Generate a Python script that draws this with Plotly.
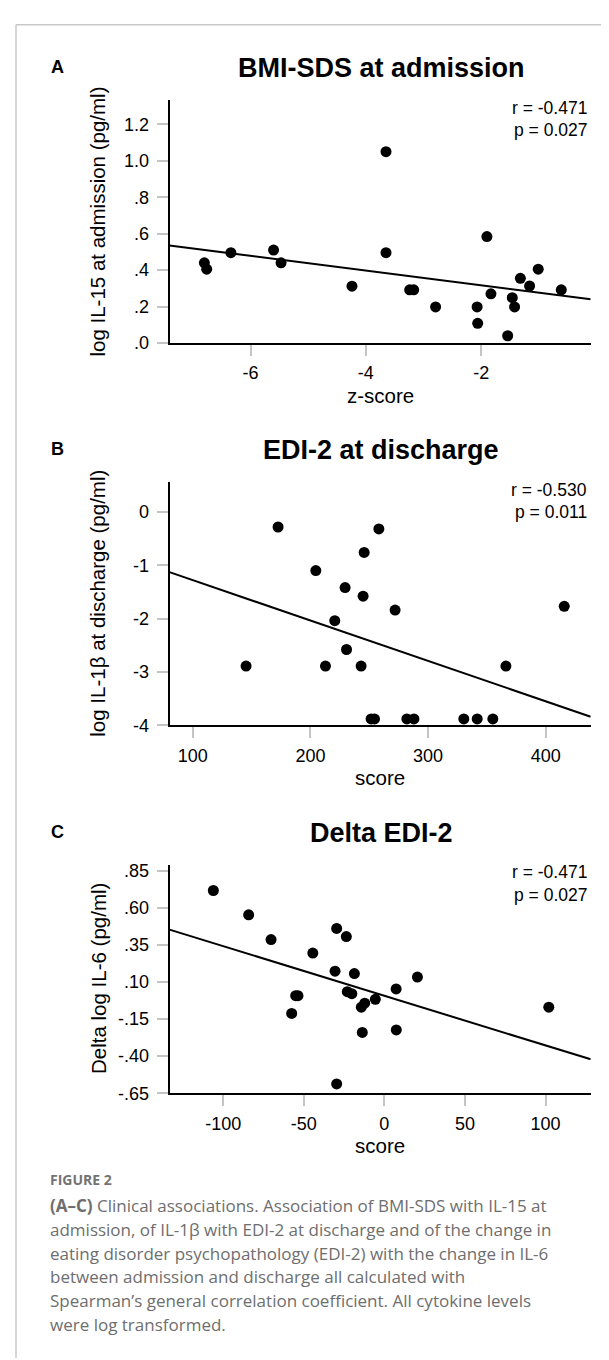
import plotly.graph_objects as go

W, H = 609, 1360

# ---------------- Data ----------------
# Panel A: BMI-SDS at admission vs log IL-15 at admission
a_x = [-6.80, -6.76, -6.34, -5.60, -5.47, -4.24, -3.65, -3.65, -3.24, -3.17, -2.79,
       -2.07, -2.06, -1.90, -1.83, -1.54, -1.46, -1.42, -1.32, -1.16, -1.01, -0.61]
a_y = [0.44, 0.405, 0.496, 0.51, 0.44, 0.312, 1.05, 0.496, 0.292, 0.292, 0.198,
       0.198, 0.108, 0.584, 0.27, 0.04, 0.249, 0.198, 0.355, 0.313, 0.405, 0.292]
a_fit_x = [-7.405, -0.10]
a_fit_y = [0.535, 0.24]
a_xticks = [-6, -4, -2]
a_xticklabels = ["-6", "-4", "-2"]
a_yticks = [0.0, 0.2, 0.4, 0.6, 0.8, 1.0, 1.2]
a_yticklabels = [".0", ".2", ".4", ".6", ".8", "1.0", "1.2"]
a_xrange = [-7.405, -0.10]
a_yrange = [0.0, 1.333]

# Panel B: EDI-2 at discharge vs log IL-1beta at discharge
b_x = [145.3, 172.5, 204.6, 212.8, 220.7, 229.5, 230.7, 243.1, 244.8, 245.7, 251.6,
       254.5, 258.2, 272.0, 282.0, 288.0, 330.4, 341.8, 355.1, 366.2, 415.8]
b_y = [-2.89, -0.284, -1.10, -2.89, -2.04, -1.42, -2.58, -2.89, -1.58, -0.76, -3.88,
       -3.88, -0.32, -1.84, -3.88, -3.88, -3.88, -3.88, -3.88, -2.89, -1.77]
b_fit_x = [80.2, 438.3]
b_fit_y = [-1.13, -3.84]
b_xticks = [100, 200, 300, 400]
b_xticklabels = ["100", "200", "300", "400"]
b_yticks = [-4, -3, -2, -1, 0]
b_yticklabels = ["-4", "-3", "-2", "-1", "0"]
b_xrange = [80.2, 438.3]
b_yrange = [-4.0, 0.557]

# Panel C: Delta EDI-2 vs Delta log IL-6
c_x = [-106.1, -84.2, -70.3, -57.5, -55.0, -53.6, -44.4, -30.6, -29.6, -29.6, -23.6,
       -23.0, -20.2, -18.6, -14.3, -13.7, -12.2, -5.6, 7.3, 7.4, 20.5, 102.0]
c_y = [0.717, 0.553, 0.386, -0.112, 0.008, 0.008, 0.295, 0.173, 0.461, -0.587, 0.406,
       0.035, 0.021, 0.157, -0.07, -0.24, -0.043, -0.017, 0.053, -0.223, 0.133, -0.07]
c_fit_x = [-133.3, 128.0]
c_fit_y = [0.453, -0.421]
c_xticks = [-100, -50, 0, 50, 100]
c_xticklabels = ["-100", "-50", "0", "50", "100"]
c_yticks = [-0.65, -0.40, -0.15, 0.10, 0.35, 0.60, 0.85]
c_yticklabels = ["-.65", "-.40", "-.15", ".10", ".35", ".60", ".85"]
c_xrange = [-133.3, 128.0]
c_yrange = [-0.65, 0.89]

panel_letters = ["A", "B", "C"]
panel_titles = ["BMI-SDS at admission", "EDI-2 at discharge", "Delta EDI-2"]
x_titles = ["z-score", "score", "score"]
y_titles = ["log IL-15 at admission (pg/ml)", "log IL-1β at discharge (pg/ml)",
            "Delta log IL-6 (pg/ml)"]
r_texts = ["r = -0.471", "r = -0.530", "r = -0.471"]
p_texts = ["p = 0.027", "p = 0.011", "p = 0.027"]

caption_head = "FIGURE 2"
caption_lines = [
    "<b>(A–C)</b> Clinical associations. Association of BMI-SDS with IL-15 at",
    "admission, of IL-1β with EDI-2 at discharge and of the change in",
    "eating disorder psychopathology (EDI-2) with the change in IL-6",
    "between admission and discharge all calculated with",
    "Spearman’s general correlation coefficient. All cytokine levels",
    "were log transformed.",
]

# ---------------- Layout geometry (pixels) ----------------
PX_L, PX_R = 161.5, 582.7
panels_py = [(89.0, 334.5), (475.0, 720.7), (861.7, 1092.5)]

def fx(px):
    return px / W

def fy(py):
    return 1 - py / H

FONT = "Arial, Liberation Sans, sans-serif"

fig = go.Figure()

data = [
    (a_x, a_y, a_fit_x, a_fit_y, a_xticks, a_xticklabels, a_yticks, a_yticklabels, a_xrange, a_yrange),
    (b_x, b_y, b_fit_x, b_fit_y, b_xticks, b_xticklabels, b_yticks, b_yticklabels, b_xrange, b_yrange),
    (c_x, c_y, c_fit_x, c_fit_y, c_xticks, c_xticklabels, c_yticks, c_yticklabels, c_xrange, c_yrange),
]

annotations = []
layout_axes = {}
for i, (xs, ys, fxs, fys, xt, xtl, yt, ytl, xr, yr) in enumerate(data):
    n = "" if i == 0 else str(i + 1)
    xa, ya = "x" + n, "y" + n
    top, bot = panels_py[i]
    fig.add_trace(go.Scatter(x=fxs, y=fys, mode="lines", xaxis=xa, yaxis=ya,
                             line=dict(color="black", width=2), showlegend=False,
                             hoverinfo="skip"))
    fig.add_trace(go.Scatter(x=xs, y=ys, mode="markers", xaxis=xa, yaxis=ya,
                             marker=dict(color="black", size=11), showlegend=False,
                             cliponaxis=False))
    common = dict(showline=True, linecolor="black", linewidth=1.6, ticks="outside",
                  ticklen=11, tickwidth=2, tickcolor="#c4c4c4", showgrid=False,
                  zeroline=False, tickfont=dict(family=FONT, size=18, color="black"))
    layout_axes["xaxis" + n] = dict(domain=[fx(PX_L), fx(PX_R)], range=xr, anchor=ya,
                                    tickmode="array", tickvals=xt, ticktext=xtl,
                                    ticklabelstandoff=2, **common)
    layout_axes["yaxis" + n] = dict(domain=[fy(bot), fy(top)], range=yr, anchor=xa,
                                    tickmode="array", tickvals=yt, ticktext=ytl,
                                    ticklabelstandoff=4, **common)
    cx = (PX_L + PX_R) / 2
    # title
    annotations.append(dict(text="<b>" + panel_titles[i] + "</b>", x=fx(cx + 1), y=fy(top - 32),
                            xref="paper", yref="paper", showarrow=False,
                            xanchor="center", yanchor="middle",
                            font=dict(family=FONT, size=27, color="black")))
    # letter
    annotations.append(dict(text="<b>" + panel_letters[i] + "</b>", x=fx(49), y=fy(top - 33),
                            xref="paper", yref="paper", showarrow=False,
                            xanchor="center", yanchor="middle",
                            font=dict(family=FONT, size=18, color="black")))
    # r / p
    annotations.append(dict(text=r_texts[i], x=fx(581), y=fy(top + 7.5),
                            xref="paper", yref="paper", showarrow=False,
                            xanchor="right", yanchor="middle",
                            font=dict(family=FONT, size=17.5, color="black")))
    annotations.append(dict(text=p_texts[i], x=fx(581), y=fy(top + 30),
                            xref="paper", yref="paper", showarrow=False,
                            xanchor="right", yanchor="middle",
                            font=dict(family=FONT, size=17.5, color="black")))
    # x title
    annotations.append(dict(text=x_titles[i], x=fx(cx), y=fy(bot + 53),
                            xref="paper", yref="paper", showarrow=False,
                            xanchor="center", yanchor="middle",
                            font=dict(family=FONT, size=20.5, color="black")))
    # y title
    annotations.append(dict(text=y_titles[i], x=fx(90), y=fy((top + bot) / 2),
                            xref="paper", yref="paper", showarrow=False,
                            textangle=-90, xanchor="center", yanchor="middle",
                            font=dict(family=FONT, size=20.5, color="black")))

CAP_FONT = "Open Sans, Noto Sans, sans-serif"
annotations.append(dict(text="<b>" + caption_head + "</b>", x=fx(40), y=fy(1180),
                        xref="paper", yref="paper", showarrow=False,
                        xanchor="left", yanchor="middle",
                        font=dict(family=CAP_FONT, size=14, color="#737373")))
cap_y = [1205.7, 1230, 1254, 1278, 1302, 1325.7]
for line, py in zip(caption_lines, cap_y):
    annotations.append(dict(text=line, x=fx(40), y=fy(py),
                            xref="paper", yref="paper", showarrow=False,
                            xanchor="left", yanchor="middle",
                            font=dict(family=CAP_FONT, size=17, color="#6e6e6e")))

shapes = [
    dict(type="line", xref="paper", yref="paper", x0=fx(8), x1=1, y0=fy(13), y1=fy(13),
         line=dict(color="#c8c8c8", width=1.5)),
    dict(type="line", xref="paper", yref="paper", x0=fx(8), x1=fx(8), y0=fy(13), y1=0,
         line=dict(color="#c8c8c8", width=1.5)),
]

fig.update_layout(width=W, height=H, margin=dict(l=0, r=0, t=0, b=0),
                  paper_bgcolor="white", plot_bgcolor="white",
                  annotations=annotations, shapes=shapes, **layout_axes)

fig.write_html("out.html")
